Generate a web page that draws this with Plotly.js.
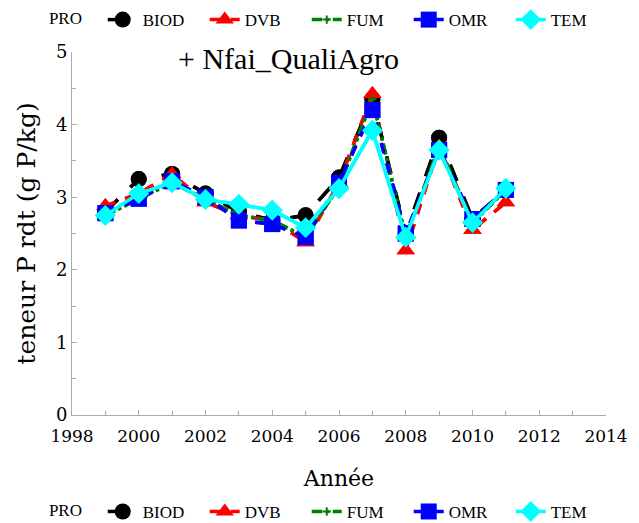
<!DOCTYPE html>
<html><head><meta charset="utf-8">
<script src="https://cdn.plot.ly/plotly-3.0.1.min.js"></script>
<style>body{margin:0;padding:0;background:#fff}#chart{width:639px;height:523px}</style>
</head><body><div id="chart"></div>
<script>
const years = [1999,2000,2001,2002,2003,2004,2005,2006,2007,2008,2009,2010,2011];
const BIOD = [2.80,3.25,3.32,3.05,2.80,2.68,2.75,3.27,4.35,2.50,3.82,2.70,3.10];
const DVB  = [2.88,3.05,3.32,2.93,2.75,2.68,2.38,3.20,4.42,2.27,3.70,2.55,2.93];
const FUM  = [2.75,2.97,3.20,2.97,2.75,2.68,2.45,3.15,4.35,2.45,3.70,2.65,3.10];
const OMR  = [2.78,2.98,3.22,3.00,2.68,2.63,2.45,3.20,4.20,2.50,3.65,2.70,3.10];
const TEM  = [2.75,3.05,3.20,2.97,2.90,2.82,2.58,3.12,3.92,2.45,3.65,2.65,3.12];
const names = ["BIOD","DVB","FUM","OMR","TEM"];
const series = [BIOD,DVB,FUM,OMR,TEM];
const colors = ["#000000","#ff0000","#008000","#0000ff","#00ffff"];
const dashes = ["longdash","dash","dashdot","dash","solid"];
const symbols = ["circle","triangle-up","cross-thin","square","diamond"];
const msizes = [16,16,6,16,16];
const traces = [];
["legend","legend2"].forEach(lg=>{
  series.forEach((s,i)=>{
    traces.push({x:years,y:s,name:names[i],type:"scatter",mode:"lines+markers",legend:lg,
      line:{color:colors[i],width:3.5,dash:dashes[i]},
      marker:{symbol:symbols[i],size:msizes[i],color:colors[i],line:{color:colors[i],width:i==2?2:0}}});
  });
});
const TIMES='"Liberation Serif", "Times New Roman", serif';
const DJS='"DejaVu Serif", serif';
const legFont={family:TIMES,size:17,color:"#000"};
const layout={
  width:639,height:523,margin:{l:72,r:33,t:52,b:108,autoexpand:false},
  paper_bgcolor:"#fff",plot_bgcolor:"#fff",
  font:{family:DJS,color:"#000"},
  xaxis:{range:[1998,2014],tickvals:[1998,2000,2002,2004,2006,2008,2010,2012,2014],
    showline:true,linecolor:"#aaa",linewidth:1,ticks:"inside",tickcolor:"#aaa",ticklen:5,
    minor:{dtick:1,ticks:"inside",ticklen:4,tickcolor:"#aaa"},automargin:false,ticklabelstandoff:6,
    showgrid:false,zeroline:false,tickfont:{size:17,family:DJS,color:"#000"},
    title:{text:"Année",font:{size:22,family:DJS,color:"#000"},standoff:25}},
  yaxis:{range:[0,5],dtick:1,showline:true,linecolor:"#aaa",linewidth:1,ticks:"inside",tickcolor:"#aaa",ticklen:5,
    minor:{dtick:0.5,ticks:"inside",ticklen:4,tickcolor:"#aaa"},automargin:false,
    showgrid:false,zeroline:false,tickfont:{size:18,family:DJS,color:"#000"},
    title:{text:"teneur P rdt (g P/kg)",font:{size:25,family:DJS,color:"#000"},standoff:13}},
  legend:{orientation:"h",x:-0.047,xanchor:"left",y:1.088,yanchor:"middle",font:legFont,
    title:{text:"PRO   ",font:legFont,side:"left"},entrywidth:57,itemwidth:30,bgcolor:"rgba(0,0,0,0)"},
  legend2:{orientation:"h",x:-0.047,xanchor:"left",y:-0.267,yanchor:"middle",font:legFont,
    title:{text:"PRO   ",font:legFont,side:"left"},entrywidth:57,itemwidth:30,bgcolor:"rgba(0,0,0,0)"},
  annotations:[{text:"+ Nfai_QualiAgro",xref:"paper",yref:"paper",x:0.406,y:0.983,yanchor:"middle",showarrow:false,
    font:{family:TIMES,size:30,color:"#000"}}],
  showlegend:true
};
Plotly.newPlot("chart",traces,layout,{displayModeBar:false,staticPlot:true});
</script></body></html>
